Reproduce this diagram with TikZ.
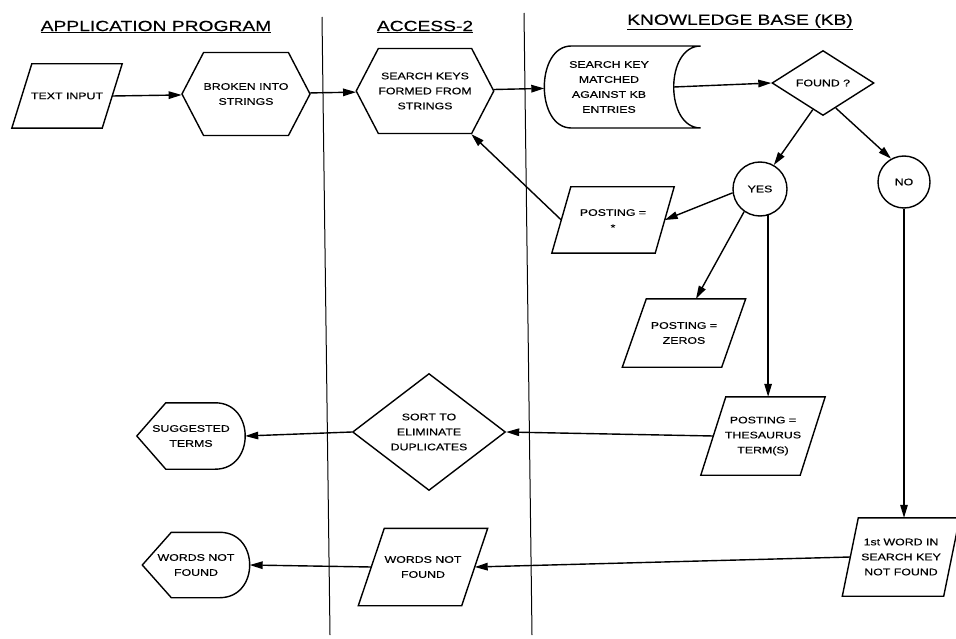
\documentclass[tikz,border=0pt]{standalone}
\usepackage{fontspec}
\newfontfamily\chartfont{Liberation Sans}[FakeStretch=1.3,FakeBold=0.4]
\usetikzlibrary{shapes.geometric,shapes.symbols,arrows.meta}
% parallelogram outline round a plain node: name, slant
\newcommand\slantbox[2]{%
	\draw ([xshift={#2/2}]#1.north west) -- ([xshift={#2/2}]#1.north east)
		-- ([xshift={-#2/2}]#1.south east) -- ([xshift={-#2/2}]#1.south west) -- cycle;}

\begin{document}
\begin{tikzpicture}[x=1pt,y=-1pt,line width=1.4pt,
	font=\chartfont\fontsize{9.5}{15}\selectfont,
	lane/.style={inner sep=0pt,font=\chartfont\fontsize{14.8}{16}\selectfont},
	arr/.style={-{Triangle[length=13pt,width=7.5pt]}},
	inout/.style={align=center,inner sep=0pt},
	proc/.style={draw,signal,signal to=east and west,signal pointer angle=125,align=center,inner sep=0pt},
	test/.style={draw,diamond,align=center,inner sep=0pt},
	answer/.style={draw,circle,inner sep=0pt},
	plain/.style={align=center,inner sep=0pt}]
	\useasboundingbox (0,0) rectangle (956,639);
	% lanes
	\draw[line width=1pt] (322,17) -- (330,635);
	\draw[line width=1pt] (524,13) -- (532,635);
	\node[lane] (tapp) at (156,27) {\underline{APPLICATION PROGRAM}};
	\node[lane] (tacc) at (425,27) {\underline{ACCESS-2}};
	\node[lane] (tkb) at (740,22) {\underline{KNOWLEDGE BASE (KB)}};
	% boxes
	\node[inout,minimum width=89,minimum height=63] (txtin) at (67,96) {TEXT INPUT};
	\slantbox{txtin}{20}
	\node[proc,minimum width=128,minimum height=83] (brk) at (246,94) {BROKEN INTO\\STRINGS};
	\node[proc,minimum width=126,minimum height=85] (skeys) at (425,91) {SEARCH KEYS\\FORMED FROM\\STRINGS};
	\node[plain,minimum width=128,minimum height=82] (match) at (609,87) {SEARCH KEY\\MATCHED\\AGAINST KB\\ENTRIES};
	\draw ([xshift=27pt,yshift=41pt]match.west) -- ([xshift=27pt,yshift=41pt]match.east)
		.. controls +(-36,0) and +(-36,0) .. ([xshift=27pt,yshift=-41pt]match.east)
		-- ([xshift=27pt,yshift=-41pt]match.west)
		.. controls +(-36,0) and +(-36,0) .. ([xshift=27pt,yshift=41pt]match.west) -- cycle;
	\node[test,minimum width=102,minimum height=65] (found) at (823,83) {FOUND ?};
	\node[answer,minimum size=54] (yes) at (760,189) {YES};
	\node[answer,minimum size=52] (no) at (904,182) {NO};
	\node[inout,minimum width=102,minimum height=65] (pstar) at (613,220) {POSTING =\\*};
	\slantbox{pstar}{19}
	\node[inout,minimum width=98,minimum height=67] (pzero) at (684,333) {POSTING =\\ZEROS};
	\slantbox{pzero}{24}
	\node[inout,minimum width=98,minimum height=77] (pthes) at (763,436) {POSTING =\\THESAURUS\\TERM(S)};
	\slantbox{pthes}{25}
	\node[test,minimum width=153,minimum height=117] (sort) at (429,432) {SORT TO\\ELIMINATE\\DUPLICATES};
	\node[plain,minimum width=107,minimum height=65] (sugg) at (191,436) {SUGGESTED\\TERMS};
	\draw (sugg.west) -- ([xshift=29pt]sugg.north west) -- ([xshift=-30pt]sugg.north east)
		.. controls +(40,0) and +(40,0) .. ([xshift=-30pt]sugg.south east)
		-- ([xshift=29pt]sugg.south west) -- cycle;
	\node[inout,minimum width=100,minimum height=77] (first) at (901,557) {1st WORD IN\\SEARCH KEY\\NOT FOUND};
	\slantbox{first}{16}
	\node[inout,minimum width=102,minimum height=76] (wnf2) at (423,567) {WORDS NOT\\FOUND};
	\slantbox{wnf2}{26}
	\node[plain,minimum width=106,minimum height=64] (wnf1) at (196,565) {WORDS NOT\\FOUND};
	\draw (wnf1.west) -- ([xshift=29pt]wnf1.north west) -- ([xshift=-30pt]wnf1.north east)
		.. controls +(40,0) and +(40,0) .. ([xshift=-30pt]wnf1.south east)
		-- ([xshift=29pt]wnf1.south west) -- cycle;
	% flow
	\draw[arr] (txtin.east) -- (brk);
	\draw[arr] (brk) -- (skeys);
	\draw[arr] (skeys) -- (match);
	\draw[arr] (match.east) -- (found.west);
	\draw[arr] (found.-111) -- (yes.60);
	\draw[arr] (found.-63) -- (no.119);
	\draw[arr] (yes.188) -- (pstar.east);
	\draw[arr] (pstar.west) -- (skeys.-43);
	\draw[arr] (yes.-125) -- ([xshift=12pt]pzero.north);
	\draw[arr] (yes.-73) -- (yes.-73 |- pthes.north);
	\draw[arr] (pthes.west) -- (sort.east);
	\draw[arr] (sort.west) -- (sugg.east);
	\draw[arr] (no.south) -- (no.south |- first.north);
	\draw[arr] (first.west) -- (wnf2.east);
	\draw[arr] (wnf2.west) -- (wnf1.east);
\end{tikzpicture}
\end{document}
